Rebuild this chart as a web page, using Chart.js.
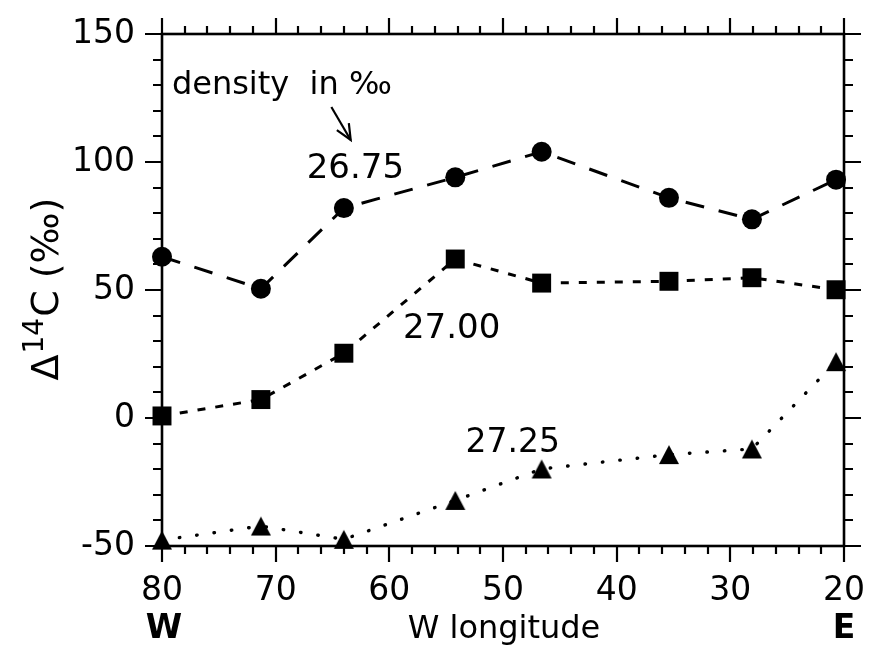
<!DOCTYPE html>
<html><head><meta charset="utf-8">
<script src="https://cdn.jsdelivr.net/npm/chart.js@4"></script>
<style>html,body{margin:0;padding:0;background:#fff;} #wrap{width:873px;height:645px;}</style>
</head><body><div id="wrap"><canvas id="c" width="873" height="645"></canvas></div>
<script>
// ---- data ----
const longitudes = [80, 71.3, 64, 54.2, 46.6, 35.4, 28.1, 20.7];
const density2675 = [63, 50.5, 82, 94, 104, 86, 77.6, 93.1];
const density2700 = [0.8, 7.2, 25.3, 62.1, 52.7, 53.4, 54.8, 50.1];
const density2725 = [-47.7, -42.2, -47.4, -32.2, -19.9, -14.3, -12.1, 22];
const seriesLabels = ['26.75', '27.00', '27.25'];
const xTickLabels = [80, 70, 60, 50, 40, 30, 20];
const yTickLabels = [150, 100, 50, 0, -50];
const xTitle = 'W longitude';
const yTitleParts = ['Δ', '14', 'C (‰)'];
// annotation anchor points in data units
const labelPos = {
  density: [79.13, 126.5],
  s2675: [67.27, 93.75],
  s2700: [58.8, 31.25],
  s2725: [53.3, -13.3]
};
const arrowFrom = [65.1, 121.5];
const arrowTo = [63.4, 108.6];

const FONT = 'DejaVu Sans';

function pts(vals) { return longitudes.map((x, i) => ({ x: x, y: vals[i] })); }

// triangle marker
const tri = document.createElement('canvas');
tri.width = 22; tri.height = 21;
(function () {
  const g = tri.getContext('2d');
  g.fillStyle = '#000';
  g.beginPath(); g.moveTo(11, 1); g.lineTo(21, 20); g.lineTo(1, 20); g.closePath(); g.fill();
})();

const framePlugin = {
  id: 'frame',
  beforeDatasetsDraw(chart) {
    const ctx = chart.ctx, a = chart.chartArea;
    const xs = chart.scales.x, ys = chart.scales.y;
    ctx.save();
    ctx.strokeStyle = '#000';
    ctx.lineWidth = 2.6;
    ctx.strokeRect(a.left, a.top, a.right - a.left, a.bottom - a.top);
    ctx.lineWidth = 2.2;
    ctx.beginPath();
    for (let v = 20; v <= 80; v += 2) {
      const px = Math.round(xs.getPixelForValue(v));
      const L = (v % 10 === 0) ? 16 : 8;
      ctx.moveTo(px, a.bottom); ctx.lineTo(px, a.bottom + L);
      ctx.moveTo(px, a.top); ctx.lineTo(px, a.top - L);
    }
    for (let v = -50; v <= 150; v += 10) {
      const py = Math.round(ys.getPixelForValue(v));
      const L = (v % 50 === 0) ? 17 : 9;
      ctx.moveTo(a.left, py); ctx.lineTo(a.left - L, py);
      ctx.moveTo(a.right, py); ctx.lineTo(a.right + L, py);
    }
    ctx.stroke();
    ctx.restore();
  },
  afterDraw(chart) {
    const ctx = chart.ctx, a = chart.chartArea;
    const xs = chart.scales.x, ys = chart.scales.y;
    const P = (p) => [xs.getPixelForValue(p[0]), ys.getPixelForValue(p[1])];
    ctx.save();
    ctx.fillStyle = '#000';
    ctx.textBaseline = 'alphabetic';
    ctx.textAlign = 'left';
    ctx.font = '32px "' + FONT + '"';
    let p = P(labelPos.density); ctx.fillText('density  in ‰', p[0], p[1]);
    ctx.font = '34px "' + FONT + '"';
    p = P(labelPos.s2675); ctx.fillText(seriesLabels[0], p[0], p[1]);
    p = P(labelPos.s2700); ctx.fillText(seriesLabels[1], p[0], p[1]);
    ctx.font = '33px "' + FONT + '"';
    p = P(labelPos.s2725); ctx.fillText(seriesLabels[2], p[0], p[1]);
    // arrow
    const f = P(arrowFrom), t = P(arrowTo);
    ctx.strokeStyle = '#000'; ctx.lineWidth = 2.2;
    ctx.beginPath(); ctx.moveTo(f[0], f[1]); ctx.lineTo(t[0], t[1]); ctx.stroke();
    const ang = Math.atan2(t[1] - f[1], t[0] - f[0]);
    const hl = 17, ha = 0.42;
    ctx.beginPath();
    ctx.moveTo(t[0] - hl * Math.cos(ang - ha), t[1] - hl * Math.sin(ang - ha));
    ctx.lineTo(t[0], t[1]);
    ctx.lineTo(t[0] - hl * Math.cos(ang + ha), t[1] - hl * Math.sin(ang + ha));
    ctx.stroke();
    // x title and W / E end labels
    const yb = 638;
    ctx.textAlign = 'center';
    ctx.font = '32px "' + FONT + '"';
    ctx.fillText(xTitle, (a.left + a.right) / 2 + 1, yb);
    ctx.font = 'bold 33px "' + FONT + '"';
    ctx.fillText('W', xs.getPixelForValue(80) + 2, yb);
    ctx.fillText('E', xs.getPixelForValue(20), yb);
    // y title, rotated, with superscript
    ctx.save();
    ctx.translate(58, (a.top + a.bottom) / 2);
    ctx.rotate(-Math.PI / 2);
    ctx.textAlign = 'left';
    const big = '38px "' + FONT + '"', small = '28px "' + FONT + '"';
    ctx.font = big; const w0 = ctx.measureText(yTitleParts[0]).width;
    const w2 = ctx.measureText(yTitleParts[2]).width;
    ctx.font = small; const w1 = ctx.measureText(yTitleParts[1]).width;
    let x0 = -(w0 + w1 + w2) / 2;
    ctx.font = big; ctx.fillText(yTitleParts[0], x0, 0); x0 += w0 + 1;
    ctx.font = small; ctx.fillText(yTitleParts[1], x0, -15); x0 += w1 + 1;
    ctx.font = big; ctx.fillText(yTitleParts[2], x0, 0);
    ctx.restore();
    ctx.restore();
  }
};

const common = { showLine: true, borderColor: '#000', pointBackgroundColor: '#000', pointBorderColor: '#000', pointBorderWidth: 0, clip: false, tension: 0, fill: false };

new Chart(document.getElementById('c'), {
  type: 'scatter',
  data: {
    datasets: [
      Object.assign({}, common, { label: seriesLabels[0], data: pts(density2675), borderWidth: 3, borderDash: [19, 15], pointStyle: 'circle', pointRadius: 10, pointHoverRadius: 10 }),
      Object.assign({}, common, { label: seriesLabels[1], data: pts(density2700), borderWidth: 3, borderDash: [8, 10], pointStyle: 'rect', pointRadius: 13.4, pointHoverRadius: 13.4 }),
      Object.assign({}, common, { label: seriesLabels[2], data: pts(density2725), borderWidth: 3.4, borderDash: [0.5, 17], borderCapStyle: 'round', pointStyle: tri, pointRadius: 10 })
    ]
  },
  options: {
    responsive: false,
    devicePixelRatio: 1,
    animation: false,
    layout: { padding: { left: 0, right: 23, top: 34, bottom: 0 } },
    plugins: { legend: { display: false }, tooltip: { enabled: false } },
    scales: {
      x: {
        type: 'linear', reverse: true, min: 20, max: 80, position: 'bottom',
        afterBuildTicks: (s) => { s.ticks = xTickLabels.map(v => ({ value: v })); },
        ticks: { color: '#000', font: { family: FONT, size: 33 }, padding: 8, maxRotation: 0, autoSkip: false },
        grid: { drawOnChartArea: false, drawTicks: true, tickLength: 18, color: 'rgba(0,0,0,0)' },
        border: { display: false },
        title: { display: false },
        afterFit: (s) => { s.height = 99; }
      },
      y: {
        type: 'linear', min: -50, max: 150,
        afterBuildTicks: (s) => { s.ticks = yTickLabels.map(v => ({ value: v })); },
        ticks: { color: '#000', font: { family: FONT, size: 33 }, padding: 9 },
        grid: { drawOnChartArea: false, drawTicks: true, tickLength: 18, color: 'rgba(0,0,0,0)' },
        border: { display: false },
        title: { display: false },
        afterFit: (s) => { s.width = 162; }
      }
    }
  },
  plugins: [framePlugin]
});
</script>
</body></html>
